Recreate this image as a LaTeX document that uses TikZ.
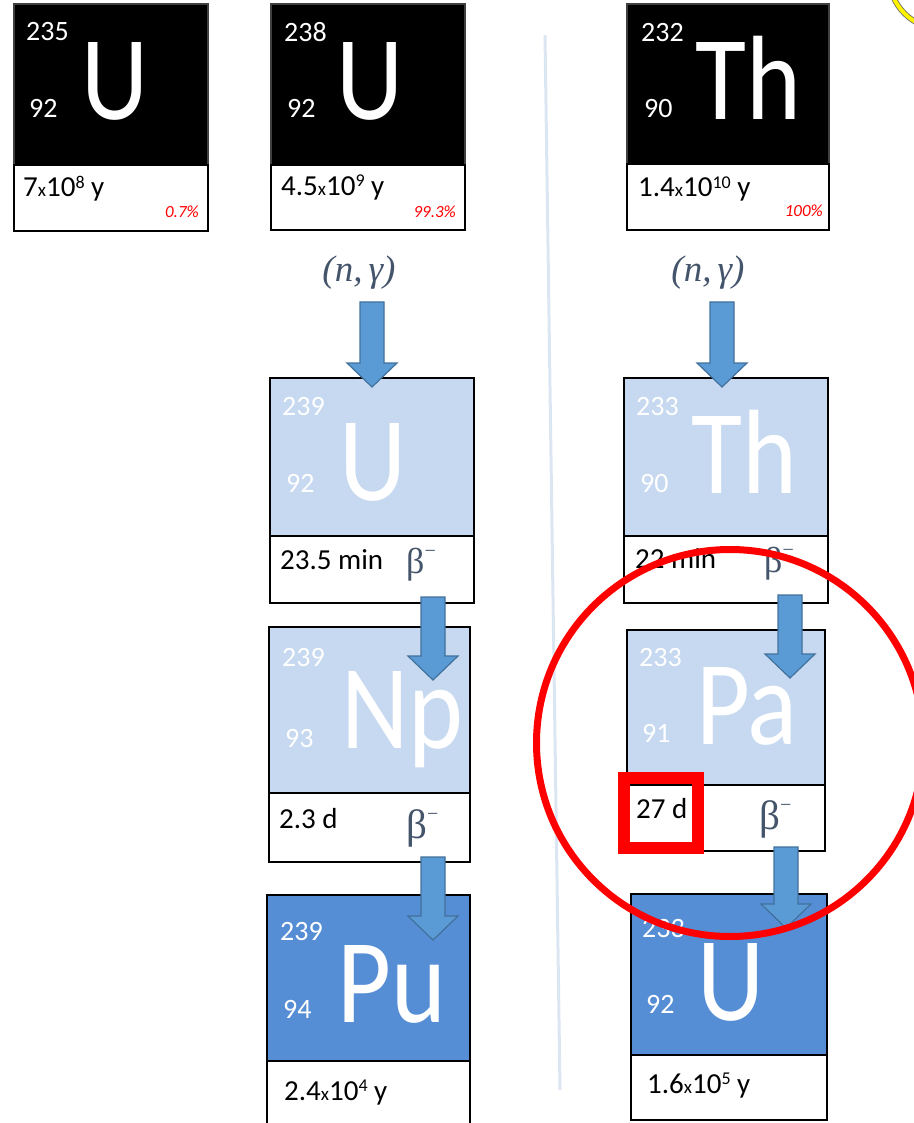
\documentclass[tikz,border=0pt]{standalone}
\usepackage{fontspec}
\setmainfont{Carlito}
\newfontfamily\symfont[FakeStretch=0.87]{Carlito}
\newfontfamily\greekfont{Liberation Serif}
\usepackage{xcolor}
\usepackage{tikz}
\usetikzlibrary{calc}

\definecolor{lightcard}{RGB}{198,217,240}
\definecolor{darkcard}{RGB}{85,142,213}
\definecolor{arrowfill}{RGB}{91,155,213}
\definecolor{arrowline}{RGB}{65,113,156}
\definecolor{slate}{RGB}{68,84,106}
\definecolor{divider}{RGB}{220,230,242}

% block arrow: shaft starts at the height of #1, tip lands on #2
\newcommand{\blockarrow}[2]{%
  \draw[decay] let \p1=(#1), \p2=(#2) in
    (\x2-12pt,\y1) -- (\x2+12pt,\y1) -- (\x2+12pt,\y2+24pt) -- (\x2+25pt,\y2+24pt)
    -- (\x2,\y2) -- (\x2-25pt,\y2+24pt) -- (\x2-12pt,\y2+24pt) -- cycle;}
% half-life written as a power of ten
\newcommand{\tenpow}[2]{#1{\fontsize{19}{19}\selectfont x}10\raisebox{9pt}{\fontsize{18}{18}\selectfont #2}}
\newcommand{\betaminus}{β\raisebox{0.42em}{\fontsize{20}{20}\selectfont −}}

\begin{document}
\begin{tikzpicture}[x=1pt,y=-1pt,
  card/.style={draw, line width=2pt, outer sep=0pt, inner sep=0pt, anchor=north west},
  blackcard/.style={card, fill=black, draw=black!75, line width=1.2pt},
  lowcard/.style={draw, line width=2pt, fill=white, outer sep=0pt, inner sep=0pt, anchor=north},
  mass/.style={white, anchor=base west, inner sep=0pt, font=\fontsize{28}{28}\selectfont},
  sym/.style={white, anchor=base west, inner sep=0pt, font=\symfont\fontsize{120}{120}\selectfont},
  life/.style={black, anchor=base west, inner sep=0pt, font=\fontsize{29}{29}\selectfont},
  pct/.style={red, anchor=base east, inner sep=0pt, font=\fontsize{17}{17}\selectfont\itshape},
  decaylabel/.style={slate, anchor=base west, inner sep=0pt, font=\greekfont\fontsize{36}{36}\selectfont},
  reaction/.style={slate, inner sep=0pt, font=\greekfont\fontsize{37}{37}\selectfont\itshape},
  decay/.style={fill=arrowfill, draw=arrowline, line width=1.2pt}]
\useasboundingbox (0,0) rectangle (913,1123);

%Straight Lines: divider
\draw[divider, line width=3pt] (545,35) -- (560,1090);
%Shape: Circle, top right corner
\node[circle, draw=black!60, double=yellow, double distance=4pt, line width=0.8pt, minimum size=106] (sun) at (942,-24) {};

%Shape: Rectangle [U-235]
\node[blackcard, minimum width=194, minimum height=161] (u235) at (14,4) {};
\node[lowcard, line width=1.5pt, minimum width=194, minimum height=66] (u235hl) at (u235.south) {};
\node[mass] (u235a) at (26,41) {235};
\node[mass] (u235z) at (29,118) {92};
\node[sym] (u235s) at (81,120) {U};
\node[life] (u235t) at (23,197) {\tenpow{7}{8} y};
\node[pct] (u235p) at (199,218) {0.7\%};

%Shape: Rectangle [U-238]
\node[blackcard, minimum width=194, minimum height=161] (u238) at (271,4) {};
\node[lowcard, line width=1.5pt, minimum width=194, minimum height=65] (u238hl) at (u238.south) {};
\node[mass] (u238a) at (284,42) {238};
\node[mass] (u238z) at (287,118) {92};
\node[sym] (u238s) at (336,120) {U};
\node[life] (u238t) at (281,196) {\tenpow{4.5}{9} y};
\node[pct] (u238p) at (456,218) {99.3\%};

%Shape: Rectangle [Th-232]
\node[blackcard, minimum width=202, minimum height=160] (th232) at (627,4) {};
\node[lowcard, line width=1.5pt, minimum width=202, minimum height=66] (th232hl) at (th232.south) {};
\node[mass] (th232a) at (641,42) {232};
\node[mass] (th232z) at (644,118) {90};
\node[sym] (th232s) at (695,120) {Th};
\node[life] (th232t) at (638,197) {\tenpow{1.4}{10} y};
\node[pct] (th232p) at (823,217) {100\%};

%Shape: Rectangle [U-239]
\node[card, fill=lightcard, minimum width=204, minimum height=158] (u239) at (270,378) {};
\node[lowcard, minimum width=204, minimum height=67] (u239hl) at (u239.south) {};
\node[mass] (u239a) at (282,415) {239};
\node[mass] (u239z) at (286,492) {92};
\node[sym] (u239s) at (339,500) {U};
\node[life] (u239t) at (280,569) {23.5 min};
\node[decaylabel] (u239b) at (406,573) {\betaminus};

%Shape: Rectangle [Th-233]
\node[card, fill=lightcard, minimum width=204, minimum height=158] (th233) at (624,378) {};
\node[lowcard, minimum width=204, minimum height=67] (th233hl) at (th233.south) {};
\node[mass] (th233a) at (636,415) {233};
\node[mass] (th233z) at (640,492) {90};
\node[sym] (th233s) at (691,493) {Th};
\node[life] (th233t) at (635,568) {22 min};
\node[decaylabel] (th233b) at (764,572) {\betaminus};

%Shape: Rectangle [Np-239]
\node[card, fill=lightcard, minimum width=201, minimum height=166] (np239) at (269,627) {};
\node[lowcard, minimum width=201, minimum height=69] (np239hl) at (np239.south) {};
\node[mass] (np239a) at (282,666) {239};
\node[mass] (np239z) at (285,747) {93};
\node[sym] (np239s) at (341,748) {Np};
\node[life] (np239t) at (279,828) {2.3 d};
\node[decaylabel, font=\greekfont\fontsize{41}{41}\selectfont] (np239b) at (406,838) {\betaminus};

%Shape: Rectangle [Pa-233]
\node[card, fill=lightcard, minimum width=198, minimum height=155] (pa233) at (627,630) {};
\node[lowcard, minimum width=198, minimum height=66] (pa233hl) at (pa233.south) {};
\node[mass] (pa233a) at (639,666) {233};
\node[mass] (pa233z) at (642,742) {91};
\node[sym] (pa233s) at (696,744) {Pa};
\node[life] (pa233t) at (636,818) {27 d};
\node[decaylabel, font=\greekfont\fontsize{41}{41}\selectfont] (pa233b) at (759,829) {\betaminus};

%Shape: Rectangle [Pu-239]
\node[card, fill=darkcard, minimum width=203, minimum height=166] (pu239) at (267,895) {};
\node[lowcard, minimum width=203, minimum height=70] (pu239hl) at (pu239.south) {};
\node[mass] (pu239a) at (280,940) {239};
\node[mass] (pu239z) at (283,1018) {94};
\node[sym] (pu239s) at (337,1022) {Pu};
\node[life] (pu239t) at (284,1100) {\tenpow{2.4}{4} y};

%Shape: Rectangle [U-233]
\node[card, fill=darkcard, minimum width=196, minimum height=161] (u233) at (631,894) {};
\node[lowcard, minimum width=196, minimum height=65] (u233hl) at (u233.south) {};
\node[mass] (u233a) at (642,937) {233};
\node[mass] (u233z) at (646,1013) {92};
\node[sym] (u233s) at (697,1020) {U};
\node[life] (u233t) at (647,1093) {\tenpow{1.6}{5} y};

% Text Node
\node[reaction] (react1) at (359,273) {(n,\,γ)};
% Text Node
\node[reaction] (react2) at (708,273) {(n,\,γ)};

%Block arrows
\coordinate (s1) at ($(react1.south)+(0,12)$);
\coordinate (t1) at ($(u239.north)+(0,9)$);
\coordinate (s2) at ($(react2.south)+(0,12)$);
\coordinate (t2) at ($(th233.north)+(-4,9)$);
\coordinate (s3) at ($(u239hl.south)+(0,-6)$);
\coordinate (t3) at ($(np239.north east)+(-37,53)$);
\coordinate (s4) at ($(np239hl.south)+(0,-5)$);
\coordinate (t4) at ($(pu239.north east)+(-37,45)$);
\coordinate (s5) at ($(th233hl.south)+(0,-8)$);
\coordinate (t5) at ($(pa233.north east)+(-35,48)$);
\coordinate (s6) at ($(pa233hl.south)+(0,-4)$);
\coordinate (t6) at ($(u233.north east)+(-41,34)$);
\blockarrow{s1}{t1}
\blockarrow{s2}{t2}
\blockarrow{s3}{t3}
\blockarrow{s4}{t4}
\blockarrow{s5}{t5}
\blockarrow{s6}{t6}

%Shape: red marks
\node[draw=red, line width=12pt, inner sep=0pt, minimum width=74, minimum height=70] (mark) at (661,813) {};
\node[circle, draw=red, line width=7pt, minimum size=387] (focus) at (730,743) {};

\end{tikzpicture}
\end{document}
